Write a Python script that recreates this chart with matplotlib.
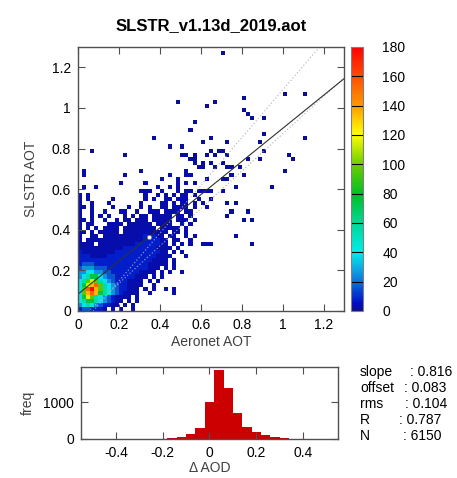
import matplotlib
matplotlib.use('Agg')
import matplotlib.pyplot as plt
import numpy as np
from matplotlib.colors import LinearSegmentedColormap

plt.rcParams['font.family'] = ['Liberation Sans', 'DejaVu Sans']

TITLE = 'SLSTR_v1.13d_2019.aot'
BIN = 0.02          # cell size of the 2D histogram (AOT units)
NBIN = 65

# density grid: one string per row, top row first
# (rows 34 .. 0, columns 0 .. 34); symbol -> count level below
LEVELS = {'.': 0, '1': 3, '2': 8, '3': 16, '4': 26, '5': 38, '6': 55,
          '7': 75, '8': 95, '9': 115, 'a': 135, 'b': 155, 'c': 178}
DENSE_ROWS = [
    ".1.............1..........1",
    ".1.........1..........1...11",
    "....................1...1......1",
    "..........1.....1.......1.1.1",
    ".1..1..............1..1.1",
    "...............111..1...1.11.1111..1",
    "1.1.............1..1.1.1.11.1",
    "1.1.....1.......1.1..11.111..1..1",
    "1..1...1.......1....11.1.11.1.1",
    "11.1....1...1..1.1..11.1111.1..1",
    "1..1..1...11..1..111.1111.11",
    "1..1.1.1...1.1.11.11111.11.1",
    "11.1..1..1.11.111.11111.111.1",
    "1.11...1111.111111.1111..1.1",
    "1.1.1.1111.11111111.11111.1",
    "11.1.11111.11111111111.11.1...",
    "1..11.111111111121211.11..1.1",
    "1.11111111111111222211.11..1",
    "1111.11111111122222211.1.1.1..111",
    "11111111111222222221111.1",
    "2111111112222222222211.1.1",
    "22211112222222222221111...1",
    "2222222222222222221111.1",
    "2333222222222222211111.1",
    "34443332222222222111.1.1",
    "4455443322222221111.1.1..1",
    "45677543322222111.1.1",
    "5689865432221111.1.1",
    "579ab86543221111..1",
    "58bca8654322111.1.1..1.1",
    "58aba7654321111..1.....1",
    "5798654321111.1",
    "56776543211.1.1",
    "4565432211.1.1",
    "2332221.1.1..1",
]

# isolated cells outside the dense block (column, row), one or two matchups each
OUTLIERS = [(35, 63), (24, 51), (31, 50), (33, 51), (40, 52), (40, 49), (41, 48),
            (42, 47), (45, 47), (50, 53), (55, 53), (28, 46), (27, 44), (18, 42),
            (32, 42), (36, 41), (30, 41), (44, 41), (45, 43), (55, 42), (3, 39),
            (11, 38), (22, 40), (25, 40), (25, 38), (26, 38), (28, 38), (28, 37),
            (31, 38), (32, 39), (33, 38), (34, 39), (35, 39), (36, 38), (41, 37),
            (44, 37), (45, 39), (51, 38), (52, 37), (50, 34), (40, 33), (39, 35),
            (47, 30), (36, 32), (37, 33), (35, 32), (38, 30), (36, 26), (38, 26),
            (36, 23), (40, 22), (42, 22), (41, 24), (38, 18), (42, 16), (27, 37),
            (28, 36), (29, 35), (30, 36), (30, 35), (33, 35), (35, 36), (36, 35),
            (37, 35), (32, 36), (37, 24), (35, 29)]

# regression and statistics
SLOPE, OFFSET, RMS, R, N = 0.816, 0.083, 0.104, 0.787, 6150
MEAN_X, MEAN_Y = 0.347, 0.366
EE_UP = (1.176, -0.088)    # dotted guide lines (slope, intercept)
EE_LOW = (0.92, -0.048)

# histogram of SLSTR - Aeronet differences
DIFF_CENTERS = [-0.28, -0.24, -0.20, -0.16, -0.12, -0.08, -0.04, 0.00, 0.04,
                0.08, 0.12, 0.16, 0.20, 0.24, 0.28, 0.32, 0.36, 0.40, 0.44]
DIFF_COUNTS = [2, 4, 8, 18, 45, 126, 306, 1000, 1865,
               1369, 694, 333, 180, 99, 45, 25, 12, 5, 2]

CBAR_TICKS = [0, 20, 40, 60, 80, 100, 120, 140, 160, 180]


def make_cmap():
    """ gnuplot-like palette: dark blue - cyan - green - yellow - red """
    stops = [(0.00, (0.05, 0.05, 0.55)),
             (0.03, (0.00, 0.05, 0.78)),
             (0.11, (0.05, 0.45, 0.85)),
             (0.17, (0.05, 0.70, 0.90)),
             (0.22, (0.00, 0.93, 0.93)),
             (0.33, (0.00, 0.85, 0.60)),
             (0.44, (0.00, 0.75, 0.15)),
             (0.55, (0.40, 0.80, 0.00)),
             (0.67, (1.00, 1.00, 0.00)),
             (0.78, (1.00, 0.60, 0.00)),
             (0.89, (1.00, 0.30, 0.00)),
             (1.00, (1.00, 0.00, 0.00))]
    return LinearSegmentedColormap.from_list('gp', stops)


def build_grid():
    grid = np.zeros((NBIN, NBIN))
    n = len(DENSE_ROWS)
    for i, row in enumerate(DENSE_ROWS):
        r = n - 1 - i
        for c, ch in enumerate(row):
            grid[r, c] = LEVELS[ch]
    for c, r in OUTLIERS:
        grid[r, c] = 2
    return np.ma.masked_equal(grid, 0)


def style_axes(ax):
    for s in ax.spines.values():
        s.set_color('#505050')
        s.set_linewidth(1.0)
    ax.tick_params(direction='in', top=True, right=True, length=5, width=0.8,
                   color='#505050', labelsize=10, pad=5)


def plot(fig_location='out.png'):
    fig = plt.figure(figsize=(4.57, 4.78), dpi=100)
    cmap = make_cmap()

    # main scatter density
    ax = fig.add_axes([78 / 457, 1 - 311 / 478, 266 / 457, 264 / 478])
    edges = np.arange(NBIN + 1) * BIN
    mesh = ax.pcolormesh(edges, edges, build_grid(), cmap=cmap, vmin=0, vmax=180)

    xs = np.array([0, 1.3])
    ax.plot(xs, EE_UP[0] * xs + EE_UP[1], ls=(0, (1, 2)), color='#b0b0b0', lw=0.8)
    ax.plot(xs, EE_LOW[0] * xs + EE_LOW[1], ls=(0, (1, 2)), color='#b0b0b0', lw=0.8)
    ax.plot(xs, SLOPE * xs + OFFSET, color='#303030', lw=0.8)
    ax.plot([MEAN_X], [MEAN_Y], 'o', ms=3, mfc='white', mec='#808080', mew=0.6)

    ax.set_xlim(0, 1.3)
    ax.set_ylim(0, 1.3)
    ticks = [0, 0.2, 0.4, 0.6, 0.8, 1, 1.2]
    labels = ['0', '0.2', '0.4', '0.6', '0.8', '1', '1.2']
    ax.set_xticks(ticks, labels)
    ax.set_yticks(ticks, labels)
    style_axes(ax)
    ax.set_title(TITLE, fontsize=12, fontweight='bold', pad=12)
    ax.set_xlabel('Aeronet AOT', fontsize=10, color='#404040', labelpad=2)
    ax.set_ylabel('SLSTR AOT', fontsize=10, color='#404040', labelpad=10)

    # colour bar with black lines at each tick
    cax = fig.add_axes([351 / 457, 1 - 311 / 478, 12 / 457, 264 / 478])
    cb = fig.colorbar(mesh, cax=cax, ticks=CBAR_TICKS)
    cb.outline.set_edgecolor('#808080')
    cax.tick_params(length=0, labelsize=10, pad=14)
    for t in CBAR_TICKS[1:-1]:
        cax.axhline(t, color='black', lw=0.8)

    # difference histogram
    hx = fig.add_axes([81 / 457, 1 - 439 / 478, 257 / 457, 72 / 478])
    hx.bar(DIFF_CENTERS, DIFF_COUNTS, width=0.04, color='#cc0000', edgecolor='none')
    hx.set_xlim(-0.55, 0.55)
    hx.set_ylim(0, 1950)
    hx.set_xticks([-0.4, -0.2, 0, 0.2, 0.4], ['-0.4', '-0.2', '0', '0.2', '0.4'])
    hx.set_yticks([0, 1000])
    style_axes(hx)
    hx.set_xlabel('\u0394 AOD', fontsize=10, color='#404040', labelpad=1)
    hx.set_ylabel('freq', fontsize=10, color='#404040', labelpad=6)

    # statistics block
    stats = [('slope', ': %.3f' % SLOPE, 410),
             ('offset', ': %.3f' % OFFSET, 404),
             ('rms', ': %.3f' % RMS, 405),
             ('R', ': %.3f' % R, 399),
             ('N', ': %d' % N, 403)]
    for i, (name, val, xc) in enumerate(stats):
        y = 1 - (372 + i * 16) / 478
        fig.text(360 / 457, y, name, fontsize=10, va='center')
        fig.text(xc / 457, y, val, fontsize=10, va='center')

    fig.savefig(fig_location, dpi=100)


if __name__ == '__main__':
    plot()
